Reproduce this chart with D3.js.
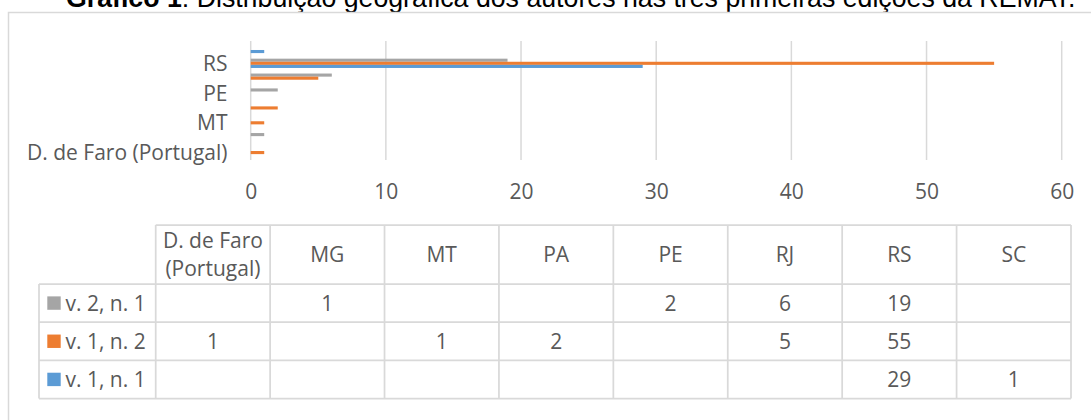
<!DOCTYPE html>
<html>
<head>
<meta charset="utf-8">
<script src="https://cdn.jsdelivr.net/npm/d3@7"></script>
<style>
  body { margin: 0; background: #fff; }
  svg { display: block; }
</style>
</head>
<body>
<div id="chart"></div>
<script>
// Data
const categories = ["D. de Faro (Portugal)", "MG", "MT", "PA", "PE", "RJ", "RS", "SC"];
const seriesNames = ["v. 2, n. 1", "v. 1, n. 2", "v. 1, n. 1"];
const v2n1 = [null, 1, null, null, 2, 6, 19, null];
const v1n2 = [1, null, 1, 2, null, 5, 55, null];
const v1n1 = [null, null, null, null, null, null, 29, 1];
const xTicks = [0, 10, 20, 30, 40, 50, 60];
const shownLabels = ["D. de Faro (Portugal)", "MT", "PE", "RS"];
const headerLines = { "D. de Faro (Portugal)": ["D. de Faro", "(Portugal)"] };

const seriesValues = [v2n1, v1n2, v1n1];
const colors = ["#A5A5A5", "#ED7D31", "#5B9BD5"];

const width = 1091, height = 420;
const font = "'Open Sans', sans-serif";
const textColor = "#595959";
const lineColor = "#d9d9d9";

const svg = d3.select("#chart")
    .append("svg")
    .attr("width", width)
    .attr("height", height);

// Title (runs above the chart frame, partly cut off)
const title = svg.append("text")
    .attr("x", 66)
    .attr("y", 7)
    .style("font-family", "'Liberation Sans', Arial, sans-serif")
    .style("font-size", "24px")
    .attr("fill", "#000");
title.append("tspan").style("font-weight", "bold").text("Gráfico 1");
title.append("tspan").text(": Distribuição geográfica dos autores nas três primeiras edições da REMAT.");
// stretch font so the title spans the same width as the original
const titleLen = title.node().getComputedTextLength();
title.style("font-size", (24 * 1010 / titleLen) + "px");

// Chart frame
svg.append("rect")
    .attr("x", 8.5)
    .attr("y", 12.5)
    .attr("width", width)
    .attr("height", height)
    .attr("fill", "none")
    .attr("stroke", lineColor)
    .attr("stroke-width", 1.5);

// Scales
const x = d3.scaleLinear()
    .domain([0, 60])
    .range([250.7, 1061.7]);

const y = d3.scaleBand()
    .domain(categories.slice().reverse())
    .range([41, 160])
    .paddingInner(0.375)
    .paddingOuter(0.1875);

const ySeries = d3.scaleBand()
    .domain(seriesNames)
    .range([0, y.bandwidth()]);

// Vertical gridlines
svg.append("g")
    .selectAll("line")
    .data(xTicks)
    .enter()
    .append("line")
    .attr("x1", d => x(d))
    .attr("x2", d => x(d))
    .attr("y1", 41)
    .attr("y2", 160)
    .attr("stroke", lineColor)
    .attr("stroke-width", 1.5);

// Bars
const barData = [];
seriesNames.forEach((s, i) => {
    categories.forEach((c, j) => {
        if (seriesValues[i][j] != null) barData.push({ series: s, cat: c, value: seriesValues[i][j], color: colors[i] });
    });
});

svg.append("g")
    .selectAll("rect")
    .data(barData)
    .enter()
    .append("rect")
    .attr("x", x(0))
    .attr("y", d => y(d.cat) + ySeries(d.series))
    .attr("width", d => x(d.value) - x(0))
    .attr("height", ySeries.bandwidth())
    .attr("fill", d => d.color);

// Category labels (every other one, as in the original)
svg.append("g")
    .selectAll("text")
    .data(shownLabels)
    .enter()
    .append("text")
    .attr("x", 227.5)
    .attr("y", d => y(d) + y.bandwidth() / 2)
    .attr("dy", "0.36em")
    .attr("text-anchor", "end")
    .style("font-family", font)
    .style("font-size", "21px")
    .attr("fill", textColor)
    .text(d => d);

// Value axis labels
const xAxis = svg.append("g")
    .attr("transform", "translate(0,184)")
    .call(d3.axisBottom(x).tickValues(xTicks).tickSize(0).tickPadding(0));
xAxis.select(".domain").remove();
xAxis.selectAll("text")
    .attr("dy", "0.73em")
    .style("font-family", font)
    .style("font-size", "21px")
    .attr("fill", textColor);

// Data table
const tableLeft = 39, tableTop = 225, headerBottom = 284, tableBottom = 398.5;
const col = d3.scaleBand()
    .domain(categories)
    .range([155.7, 1071]);
const row = d3.scaleBand()
    .domain(seriesNames)
    .range([headerBottom, tableBottom]);

const table = svg.append("g");

// Horizontal lines
table.append("line")
    .attr("x1", col.range()[0]).attr("x2", col.range()[1])
    .attr("y1", tableTop).attr("y2", tableTop);
table.selectAll(".hline")
    .data(seriesNames.concat(["end"]))
    .enter()
    .append("line")
    .attr("x1", tableLeft).attr("x2", col.range()[1])
    .attr("y1", d => d === "end" ? tableBottom : row(d))
    .attr("y2", d => d === "end" ? tableBottom : row(d));

// Vertical lines
table.append("line")
    .attr("x1", tableLeft).attr("x2", tableLeft)
    .attr("y1", headerBottom).attr("y2", tableBottom);
table.selectAll(".vline")
    .data(categories.concat(["end"]))
    .enter()
    .append("line")
    .attr("x1", d => d === "end" ? col.range()[1] : col(d))
    .attr("x2", d => d === "end" ? col.range()[1] : col(d))
    .attr("y1", tableTop).attr("y2", tableBottom);

table.selectAll("line")
    .attr("stroke", lineColor)
    .attr("stroke-width", 1.75);

// Header texts
const headers = table.selectAll(".header")
    .data(categories)
    .enter()
    .append("text")
    .attr("text-anchor", "middle")
    .style("font-family", font)
    .style("font-size", "21px")
    .attr("fill", textColor);
headers.each(function (d) {
    const lines = headerLines[d] || [d];
    const cx = col(d) + col.bandwidth() / 2;
    const mid = (tableTop + headerBottom) / 2;
    d3.select(this).selectAll("tspan")
        .data(lines)
        .enter()
        .append("tspan")
        .attr("x", cx)
        .attr("y", (l, i) => mid + 7.5 + (i - (lines.length - 1) / 2) * 28)
        .text(l => l);
});

// Legend keys in the table
const rowG = table.selectAll(".row")
    .data(seriesNames)
    .enter()
    .append("g")
    .attr("transform", d => `translate(0,${row(d) + row.bandwidth() / 2})`);
rowG.append("rect")
    .attr("x", 47.3)
    .attr("y", -6.7)
    .attr("width", 13.4)
    .attr("height", 13.4)
    .attr("fill", (d, i) => colors[i]);
rowG.append("text")
    .attr("x", 65.5)
    .attr("dy", "0.36em")
    .style("font-family", font)
    .style("font-size", "21px")
    .attr("fill", textColor)
    .text(d => d);

// Values in the table
rowG.selectAll(".val")
    .data((d, i) => categories.map((c, j) => ({ cat: c, value: seriesValues[i][j] })).filter(v => v.value != null))
    .enter()
    .append("text")
    .attr("x", d => col(d.cat) + col.bandwidth() / 2)
    .attr("dy", "0.36em")
    .attr("text-anchor", "middle")
    .style("font-family", font)
    .style("font-size", "21px")
    .attr("fill", textColor)
    .text(d => d.value);
</script>
</body>
</html>
